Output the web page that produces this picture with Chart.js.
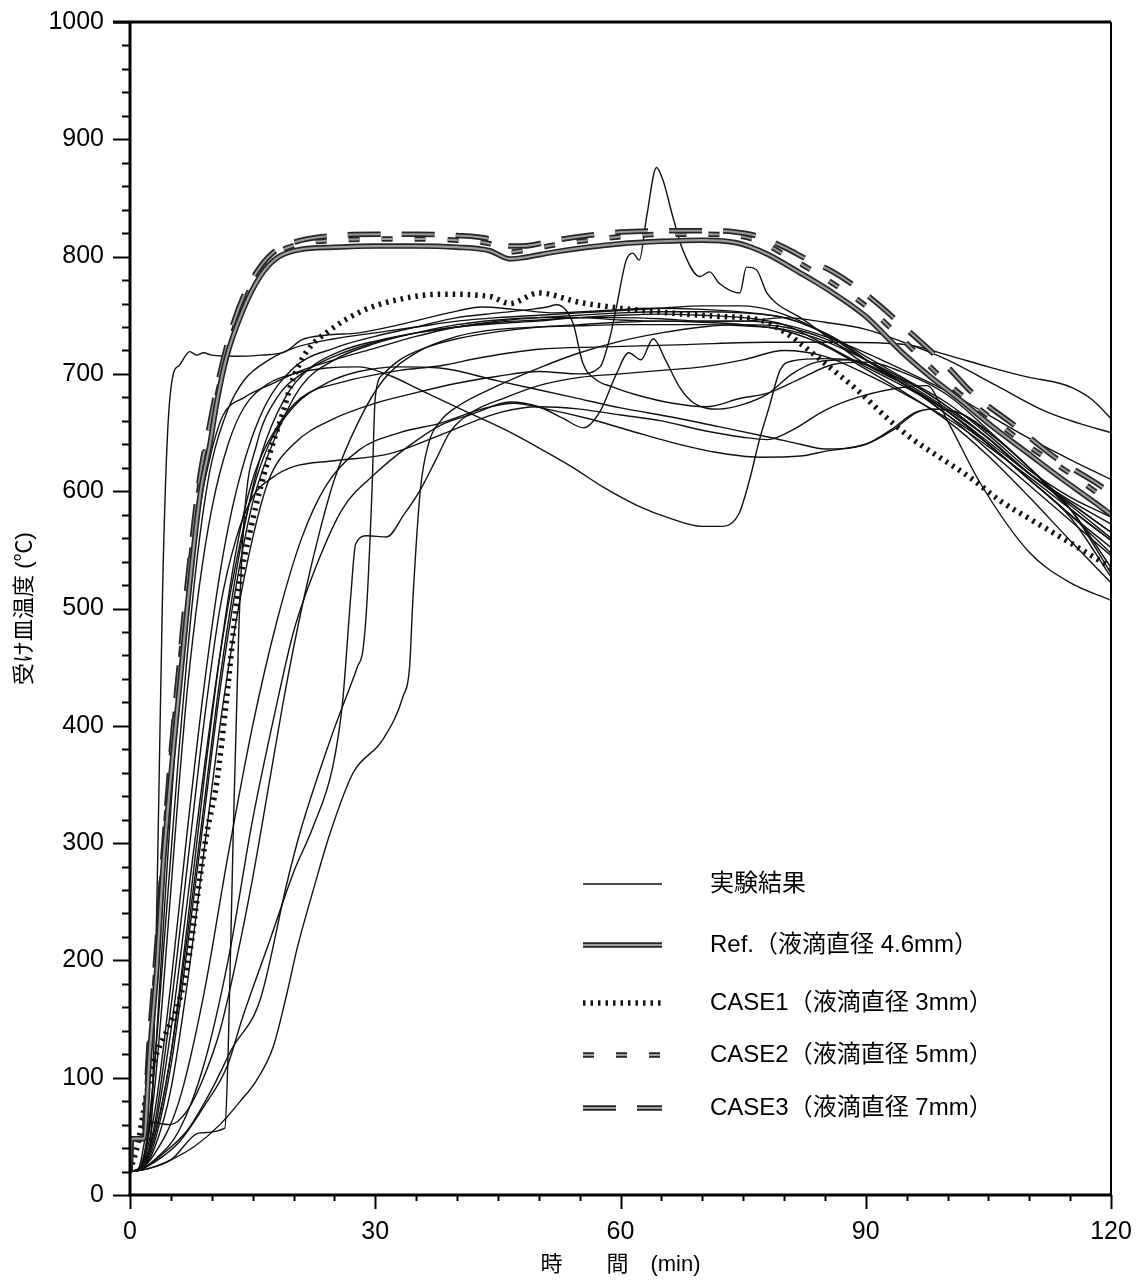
<!DOCTYPE html>
<html>
<head>
<meta charset="utf-8">
<script src="https://cdn.jsdelivr.net/npm/chart.js@4.4.1/dist/chart.umd.min.js"></script>
<style>
  html, body { margin: 0; background: #fff; }
  canvas { display: block; }
</style>
</head>
<body>
<canvas id="tempChart" width="1141" height="1284"></canvas>
<script>
// 受け皿温度の時刻歴：実験結果と解析（液滴直径を変えたケース）の比較

const FONT = "'Liberation Sans', Arial, 'Noto Sans CJK JP', sans-serif";

// 軸の目盛ラベル
const xTickLabels = [0, 30, 60, 90, 120];
const yTickLabels = [0, 100, 200, 300, 400, 500, 600, 700, 800, 900, 1000];

// 凡例の文字
const legendLabels = [
  '実験結果',
  'Ref.（液滴直径 4.6mm）',
  'CASE1（液滴直径 3mm）',
  'CASE2（液滴直径 5mm）',
  'CASE3（液滴直径 7mm）'
];

// 解析結果 [時間(min), 温度(℃)]
const refCurve = [[0,20],[0.2,48],[1.7,48],[2.4,120],[3.3,195],[4,275],[5.1,365],[6.1,436],[7.1,507],[8.6,598],[9.8,641],[10.6,675],[11.8,714],[13.8,754],[15.9,783],[18,799],[20.8,806],[25,808],[30,809],[35,809],[40,808],[44,805],[46.5,798],[48,799],[52,804],[56,808],[60,811],[65,813],[70,814],[74,812],[76,808],[78,802],[82,786],[86,769],[90,749],[94.5,718],[98,697],[101.5,678],[105.5,655],[109.7,633],[113.7,612],[117.7,592],[120,580]];
const case1Curve = [[0,20],[1,45],[2,85],[3,115],[4.5,140],[6,165],[7.3,206],[8.3,257],[9.4,309],[10.6,351],[11.8,422],[13.1,507],[15,575],[17.1,632],[18.7,667],[19.9,695],[21.6,719],[24.4,737],[28.5,754],[32.6,763],[38,768],[44,766],[46.5,760],[50,769],[55,761],[60,756],[66,752],[72,749],[77,746],[80,736],[82,726],[85,709],[89,686],[92.5,663],[95.4,646],[99,629],[102.7,612],[106.4,592],[110.4,575],[115,556],[120,535]];
const case2Curve = [[0,20],[0.2,48],[1.65,48],[2.35,122],[3.25,200],[4,280],[5,370],[6,444],[7,514],[8.5,604],[9.7,650],[11,692],[12.5,733],[14,762],[16,788],[18,803],[21,811],[25,814],[30,815],[35,815],[40,814],[44,811],[46.5,804],[48,805],[52,810],[56,814],[60,817],[65,819],[70,819],[74,818],[77,813],[80,802],[83,790],[86,777],[90,758],[95,726],[100,692],[105,664],[110,638],[115,615],[120,590]];
const case3Curve = [[0,20],[0.2,48],[1.6,48],[2.3,125],[3.2,205],[4,285],[5,375],[6,450],[7,520],[8.5,610],[9.7,655],[11,700],[12.5,740],[14,768],[16,792],[18,806],[21,814],[25,818],[30,819],[35,819],[40,818],[44,815],[46.5,809],[48,809],[52,814],[56,818],[60,821],[65,822],[70,822],[74,821],[77,817],[80,808],[83,797],[86,787],[90,768],[95,738],[100,706],[103,684],[108.4,655],[113.3,628],[118.6,605],[120,598]];

// 実験結果（熱電対ごと）
const exp01 = [[0,20],[1,22],[2.5,45],[3,150],[3.5,330],[4,520],[4.6,650],[5.3,700],[6,707],[7.3,719],[8.2,716],[9,718],[10,716],[13,715],[16,716],[19,719],[21,729],[24,733],[28,735],[33,742],[39,752],[43,757],[47,755],[52,752],[58,754],[64,756],[70,755],[76,752],[80,748],[84,738],[88,722],[92,703],[96,690],[100,672],[105,645],[110,615],[115,590],[120,565]];
const exp02 = [[0,20],[1.2,22],[2.2,50],[3,110],[4,220],[5,330],[6,430],[7,510],[8.5,585],[10,635],[11.4,665],[14,680],[17.5,692],[21,703],[25,712],[30,722],[35,732],[40,740],[45,744],[50,746],[55,748],[60,750],[65,751],[70,750],[75,748],[80,742],[85,725],[90,706],[95,688],[100,668],[105,642],[110,615],[115,592],[120,572]];
const exp03 = [[0,20],[1,22],[2,40],[3,90],[4,170],[5,260],[6,350],[7,430],[8.5,520],[10,585],[12,640],[14,672],[17,692],[20,700],[24,705],[28,706],[32,698],[35,688],[38,678],[42,665],[46,652],[50,637],[54,621],[58,603],[62,588],[66,577],[70,570],[72.5,570],[74.5,581],[75.8,610],[77,644],[78.2,672],[79.5,703],[81,711],[85,713],[88,712],[91,705],[95,690],[100,668],[105,640],[110,610],[115,580],[120,552]];
const exp04 = [[0,20],[1.5,22],[3,40],[5,90],[7,180],[9,290],[11,400],[13,490],[15,560],[17,610],[20,640],[25,662],[30,675],[35,684],[40,692],[45,698],[50,702],[55,700],[57.5,706],[58.7,731],[59.5,757],[60.7,797],[61.5,803],[62.3,797],[63.2,834],[64.4,876],[65.2,865],[66.4,834],[67.6,806],[69.7,783],[70.9,787],[72.1,777],[74.6,769],[75.4,791],[76.6,789],[77.9,769],[79.1,760],[82,748],[86,728],[90,708],[95,690],[100,668],[105,640],[110,610],[115,580],[120,547]];
const exp05 = [[0,20],[1.2,22],[3,70],[5,180],[7,310],[9,430],[11,530],[13,600],[16,665],[20,705],[25,722],[30,732],[35,740],[40,748],[45,752],[49,755],[51,757],[52.2,759],[54.2,743],[55.4,709],[57,695],[59,689],[62,682],[66.4,675],[70.5,672],[74.6,679],[78.2,684],[82,696],[86,708],[90,710],[95,700],[100,682],[105,652],[110,620],[115,585],[120,558]];
const exp06 = [[0,20],[1,21],[3,30],[6,55],[9,110],[12,200],[15,320],[18,420],[20,480],[23,540],[26,585],[30,615],[34,638],[37.9,656],[42,666],[46.5,676],[50,672],[53,662],[55.5,654],[57.5,668],[59.5,700],[61,718],[62.5,712],[64,730],[65.5,712],[67.2,689],[69,675],[72,670],[75,674],[78,683],[81,700],[84,710],[88,712],[92,702],[96,685],[100,665],[105,640],[110,610],[115,578],[120,527]];
const exp07 = [[0,20],[1,22],[3,50],[5,120],[7,230],[9,350],[11,460],[13,550],[15,610],[18,655],[21,680],[26,693],[33,703],[38,707],[43,714],[50,721],[58,723],[68,725],[78,727],[86,727],[95,725],[100,716],[105,706],[110,697],[113.7,692],[115.3,688],[117.7,678],[120,662]];
const exp08 = [[0,20],[1.4,22],[3,45],[5,110],[7,210],[9,320],[11,430],[13,520],[15,590],[18,650],[21,690],[25,712],[30,726],[35,735],[40,742],[45,746],[50,748],[55,748],[60,746],[65,745],[70,745],[75,745],[80,748],[85,744],[90,738],[95,726],[100,712],[106,690],[112,668],[116,658],[120,650]];
const exp09 = [[0,20],[1.5,22],[4,35],[7,55],[10,90],[12.5,125],[15.9,166],[19.2,266],[20.8,309],[24.8,394],[27.8,450],[28.5,465],[29,507],[29.6,600],[30,680],[31,700],[33,712],[36,722],[40,730],[45,736],[50,740],[55,742],[60,744],[65,745],[70,744],[75,742],[80,737],[85,724],[90,704],[95,683],[100,660],[105,630],[110,595],[115,558],[120,522]];
const exp10 = [[0,20],[1,21],[3,28],[6,45],[9,75],[11.9,110],[13.8,152],[17,215],[20,275],[22.4,314],[24.8,365],[26,420],[27,510],[27.6,555],[29,562],[31.4,561],[33.5,580],[35.5,601],[37.5,628],[39.1,650],[42,668],[46,680],[50,690],[55,697],[60,700],[65,703],[70,706],[75,712],[80,720],[85,715],[90,700],[95,682],[100,662],[105,638],[110,612],[115,585],[120,558]];
const exp11 = [[0,20],[2,22],[5,30],[8,42],[11,60],[13.5,80],[15.5,98],[17.5,126],[19.2,172],[20.4,209],[22.5,262],[24.5,309],[27.3,360],[30.9,388],[33.4,425],[34.2,450],[34.6,507],[35.5,600],[36.5,640],[38,660],[40,672],[45,690],[50,705],[55,718],[60,728],[65,735],[70,740],[75,742],[80,740],[85,730],[90,712],[95,692],[100,670],[105,645],[110,615],[115,588],[120,560]];
const exp12 = [[0,20],[1.3,22],[3,60],[5,160],[7,280],[9,400],[11,500],[13,560],[15,595],[17.5,612],[20,621],[25,626],[31.8,632],[38,648],[45.2,667],[50,672],[55,670],[60,665],[65,660],[70,652],[75,646],[78,644],[81,652],[85,669],[89,680],[95,689],[97.5,690],[100,660],[104,607],[110,548],[115,522],[120,507]];
const exp13 = [[0,20],[1,22],[3,55],[5,140],[7,250],[9,360],[11,460],[13,540],[15,600],[17,640],[20,672],[24,692],[28,702],[33,706],[37.9,705],[45,694],[54.2,680],[60,671],[66.4,663],[72,655],[78.2,646],[82,640],[85,636],[90,640],[93,652],[96,667],[98,670],[102,665],[106,645],[110,620],[115,585],[120,535]];
const exp14 = [[0,20],[1,21],[3,35],[6,80],[9,170],[12,290],[15,400],[18,490],[21,560],[24,605],[28,635],[33,650],[38,658],[43,670],[47,675],[51,670],[56,662],[61,652],[66,642],[71,634],[77,629],[82,630],[85,634],[90,640],[93.3,652],[96.2,667],[98.2,670],[101,668],[105,650],[110,620],[115,585],[120,530]];
const exp15 = [[0,20],[1,22],[2.4,62],[4.9,60],[7,72],[9,100],[11,140],[13,200],[15,270],[17,350],[19,430],[21,500],[23,560],[25,610],[28,660],[31,695],[35,718],[40,732],[45,738],[50,740],[55,741],[60,742],[65,742],[70,742],[75,741],[80,738],[85,728],[90,712],[95,694],[100,672],[105,645],[110,615],[115,590],[120,565]];
const exp16 = [[0,20],[2,22],[5,30],[8.6,53],[11.6,57],[12,120],[12.6,300],[13.3,480],[14,580],[15.5,640],[18,680],[21,700],[25,715],[30,727],[35,735],[40,740],[45,745],[50,748],[55,750],[60,752],[65,753],[70,753],[75,752],[80,748],[85,735],[90,715],[95,695],[100,675],[105,648],[110,618],[115,595],[120,578]];
const exp17 = [[0,20],[1,22],[2,45],[3,110],[4,200],[5,290],[6,380],[7,460],[8,530],[9,585],[10,625],[12,670],[14,695],[17,712],[20,722],[25,730],[30,735],[35,740],[40,745],[45,748],[50,750],[55,752],[60,754],[65,756],[70,758],[75,758],[78,755],[82,745],[86,730],[90,712],[95,690],[100,665],[105,635],[110,605],[115,575],[120,545]];
const exp18 = [[0,20],[1.5,22],[3,50],[5,120],[7,220],[9,330],[11,440],[12.5,510],[14,570],[16,630],[19,680],[22,705],[26,720],[30,728],[35,735],[40,740],[45,743],[50,745],[55,748],[60,748],[65,747],[70,745],[75,745],[80,742],[85,732],[90,718],[95,702],[100,685],[105,665],[110,645],[115,627],[120,610]];

const expCurves = [exp01, exp02, exp03, exp04, exp05, exp06, exp07, exp08, exp09,
                   exp10, exp11, exp12, exp13, exp14, exp15, exp16, exp17, exp18];

const toPoints = arr => arr.map(([t, v]) => ({ x: t, y: v }));
const isMajor = (list, v) => list.some(l => Math.abs(l - v) < 1e-6);

// 太線は濃い縁取り＋灰色の芯の2本重ねで描く
const datasets = [
  { data: toPoints(refCurve),   borderColor: '#9c9c9c', borderWidth: 2.2, order: 0, legendRow: 1 },
  { data: toPoints(refCurve),   borderColor: '#262626', borderWidth: 5.5, order: 1, legendRow: 1 },
  { data: toPoints(case3Curve), borderColor: '#9c9c9c', borderWidth: 2,   borderDash: [33, 21], order: 2, legendRow: 4 },
  { data: toPoints(case3Curve), borderColor: '#262626', borderWidth: 5.5, borderDash: [33, 21], order: 3, legendRow: 4 },
  { data: toPoints(case2Curve), borderColor: '#9c9c9c', borderWidth: 2,   borderDash: [11, 22], order: 4, legendRow: 3 },
  { data: toPoints(case2Curve), borderColor: '#262626', borderWidth: 5.5, borderDash: [11, 22], order: 5, legendRow: 3 },
  { data: toPoints(case1Curve), borderColor: '#111',    borderWidth: 5.5, borderDash: [2.5, 5],  order: 6, legendRow: 2 }
];
expCurves.forEach((c, i) => {
  datasets.push({
    data: toPoints(c), borderColor: '#111', borderWidth: 1.4, order: 10,
    legendRow: i === 0 ? 0 : undefined
  });
});

// 軸の大きさを固定し、目盛ラベルのはみ出し分の余白を付けない
const fixAxis = size => s => {
  if (s.isHorizontal()) s.height = size; else s.width = size;
  s.paddingTop = 0; s.paddingBottom = 0; s.paddingLeft = 0; s.paddingRight = 0;
};

// 枠線と目盛（長い主目盛と短い副目盛）
const frameTicks = {
  id: 'frameTicks',
  afterDraw(chart) {
    const { ctx, chartArea: a, scales: { x, y } } = chart;
    const seg = (x0, y0, x1, y1) => { ctx.beginPath(); ctx.moveTo(x0, y0); ctx.lineTo(x1, y1); ctx.stroke(); };
    ctx.save();
    ctx.strokeStyle = '#000';
    ctx.lineCap = 'butt';
    ctx.lineWidth = 2;
    y.ticks.forEach(t => {
      const py = Math.round(y.getPixelForValue(t.value)) + 0.5;
      const len = isMajor(yTickLabels, t.value) ? 17 : 8;
      seg(a.left - len, py, a.left, py);
    });
    x.ticks.forEach(t => {
      const px = Math.round(x.getPixelForValue(t.value)) + 0.5;
      const len = isMajor(xTickLabels, t.value) ? 14 : 6;
      seg(px, a.bottom, px, a.bottom + len);
    });
    ctx.lineWidth = 3;
    seg(a.left, a.top, a.left, a.bottom + 1.5);
    seg(a.left - 1.5, a.bottom, a.right, a.bottom);
    seg(a.left - 17, a.top, a.right, a.top);
    ctx.lineWidth = 2;
    seg(a.right, a.top, a.right, a.bottom);
    ctx.restore();
  }
};

// 凡例（グラフ内右下）
const legendBox = {
  id: 'legendBox',
  afterDraw(chart) {
    const { ctx } = chart;
    const x0 = 583, x1 = 662, textX = 710;
    const rowY = [884, 945, 1003, 1055, 1108];
    ctx.save();
    const items = chart.data.datasets
      .filter(d => d.legendRow !== undefined)
      .sort((p, q) => q.order - p.order);
    items.forEach(d => {
      const yy = rowY[d.legendRow];
      ctx.strokeStyle = d.borderColor;
      ctx.lineWidth = d.borderWidth;
      ctx.setLineDash(d.borderDash || []);
      ctx.beginPath();
      ctx.moveTo(x0, yy);
      ctx.lineTo(x1, yy);
      ctx.stroke();
    });
    ctx.setLineDash([]);
    ctx.fillStyle = '#000';
    ctx.font = '24px ' + FONT;
    ctx.textBaseline = 'middle';
    legendLabels.forEach((txt, i) => ctx.fillText(txt, textX, rowY[i]));
    ctx.restore();
  }
};

new Chart(document.getElementById('tempChart'), {
  type: 'line',
  data: { datasets },
  options: {
    responsive: false,
    animation: false,
    devicePixelRatio: 1,
    layout: { padding: { left: 0, top: 22, right: 30, bottom: 0 } },
    elements: {
      point: { radius: 0 },
      line: { cubicInterpolationMode: 'monotone', borderCapStyle: 'butt' }
    },
    plugins: { legend: { display: false }, tooltip: { enabled: false } },
    scales: {
      x: {
        type: 'linear', min: 0, max: 120,
        grid: { display: false, drawTicks: false },
        border: { display: false },
        ticks: {
          stepSize: 5, autoSkip: false, maxRotation: 0, padding: 22, color: '#000',
          font: { family: FONT, size: 25 },
          callback: v => isMajor(xTickLabels, v) ? String(v) : ''
        },
        title: {
          display: true, text: '時　　間　(min)', color: '#000',
          font: { family: FONT, size: 22 }, padding: { top: 0, bottom: 6 }
        },
        afterFit: fixAxis(89)
      },
      y: {
        type: 'linear', min: 0, max: 1000,
        grid: { display: false, drawTicks: false },
        border: { display: false },
        ticks: {
          stepSize: 20, autoSkip: false, padding: 26, color: '#000',
          font: { family: FONT, size: 25 },
          callback: v => isMajor(yTickLabels, v) ? String(v) : ''
        },
        title: {
          display: true, text: '受け皿温度 (℃)', color: '#000',
          font: { family: FONT, size: 22 }, padding: { top: 12, bottom: 0 }
        },
        afterFit: fixAxis(130)
      }
    }
  },
  plugins: [frameTicks, legendBox]
});
</script>
</body>
</html>
